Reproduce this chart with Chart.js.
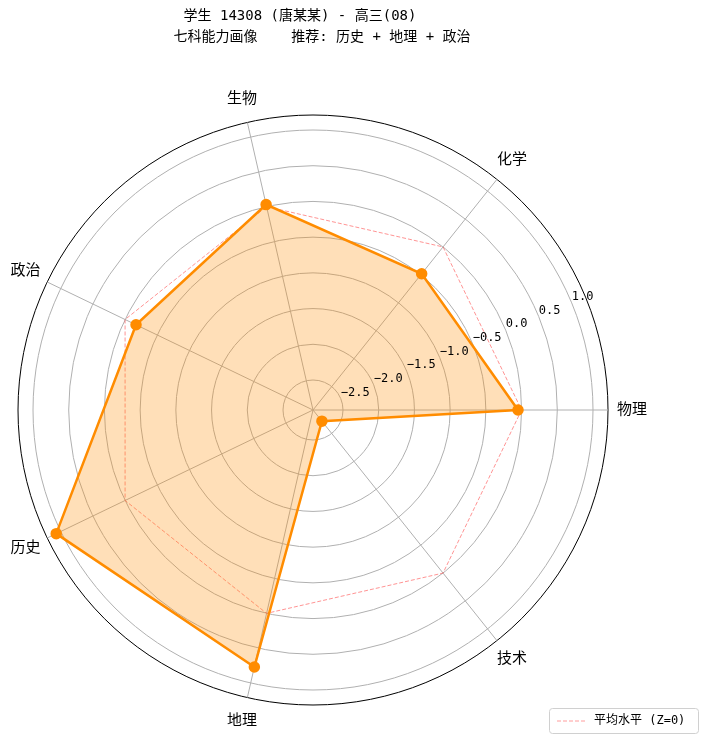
<!DOCTYPE html>
<html><head><meta charset="utf-8">
<script src="https://cdn.jsdelivr.net/npm/chart.js@4"></script>
<style>html,body{margin:0;padding:0;background:#fff}</style>
</head><body>
<canvas id="c" width="706" height="743"></canvas>
<script>
const categories = ['物理','技术','地理','历史','政治','生物','化学'];
const studentValues = [-0.05, -2.72, 0.77, 1.07, -0.17, 0.03, -0.48];
const averageValues = [0, 0, 0, 0, 0, 0, 0];
const tickValues = [-2.5, -2.0, -1.5, -1.0, -0.5, 0.0, 0.5, 1.0];
const rMin = -2.92, rMax = 1.21;
const titleLines = ['学生 14308 (唐某某) - 高三(08)', '七科能力画像    推荐: 历史 + 地理 + 政治'];
const legendLabel = '平均水平 (Z=0)';
const FONT = '"DejaVu Sans Mono", "Noto Sans CJK SC", sans-serif';

const overlay = {
  id: 'overlay',
  afterDraw(chart) {
    const ctx = chart.ctx, s = chart.scales.r;
    ctx.save();
    ctx.fillStyle = '#000';
    ctx.font = '12px ' + FONT;
    ctx.textAlign = 'left'; ctx.textBaseline = 'bottom';
    const a = 22.5 * Math.PI / 180;
    tickValues.forEach(v => {
      const d = s.getDistanceFromCenterForValue(v);
      const x = s.xCenter + d * Math.cos(a), y = s.yCenter - d * Math.sin(a);
      ctx.fillText(v.toFixed(1).replace('-', '\u2212'), x, y);
    });
    ctx.font = '15px ' + FONT;
    ctx.textAlign = 'center'; ctx.textBaseline = 'middle';
    categories.forEach((c, i) => {
      const p = s.getPointPosition(i, s.drawingArea + 24);
      ctx.fillText(c, p.x, p.y);
    });
    ctx.font = '14px ' + FONT;
    ctx.fillText(titleLines[0], 300, 16);
    ctx.fillText(titleLines[1], 322, 37);
    ctx.beginPath();
    ctx.strokeStyle = '#d0d0d0'; ctx.lineWidth = 1;
    ctx.roundRect(549.5, 708.5, 149, 25, 3);
    ctx.fillStyle = '#fff'; ctx.fill(); ctx.stroke();
    ctx.beginPath();
    ctx.strokeStyle = 'rgba(255,90,90,0.6)'; ctx.setLineDash([4, 2]);
    ctx.moveTo(557, 721); ctx.lineTo(585, 721); ctx.stroke();
    ctx.setLineDash([]);
    ctx.fillStyle = '#000'; ctx.font = '12px ' + FONT; ctx.textAlign = 'left';
    ctx.fillText(legendLabel, 594, 721);
    ctx.restore();
  }
};

new Chart(document.getElementById('c'), {
  type: 'radar',
  data: {
    labels: categories,
    datasets: [
      { label: '学生', data: studentValues, borderColor: '#ff8c00', borderWidth: 2.5,
        backgroundColor: 'rgba(255,140,0,0.28)', fill: 'start', pointRadius: 4.5,
        pointBackgroundColor: '#ff8c00', pointBorderColor: '#ff8c00' },
      { label: legendLabel, data: averageValues, borderColor: 'rgba(255,90,90,0.65)', borderWidth: 1,
        borderDash: [4, 2], fill: false, pointRadius: 0 }
    ]
  },
  options: {
    responsive: false, animation: false,
    layout: { padding: { left: 18, top: 115, right: 98, bottom: 38 } },
    plugins: { legend: { display: false }, tooltip: { enabled: false } },
    elements: { line: { tension: 0 } },
    scales: {
      r: {
        min: rMin, max: rMax, startAngle: 90,
        ticks: { display: false, stepSize: 0.5 },
        afterBuildTicks(s) { s.ticks = [rMin, ...tickValues, rMax].map(v => ({ value: v })); },
        pointLabels: { display: false },
        angleLines: { color: '#b0b0b0', lineWidth: 1 },
        grid: { circular: true,
          color: c => c.tick && Math.abs(c.tick.value - rMax) < 1e-6 ? '#000' : '#b0b0b0',
          lineWidth: 1 }
      }
    }
  },
  plugins: [overlay]
});
</script>
</body></html>
